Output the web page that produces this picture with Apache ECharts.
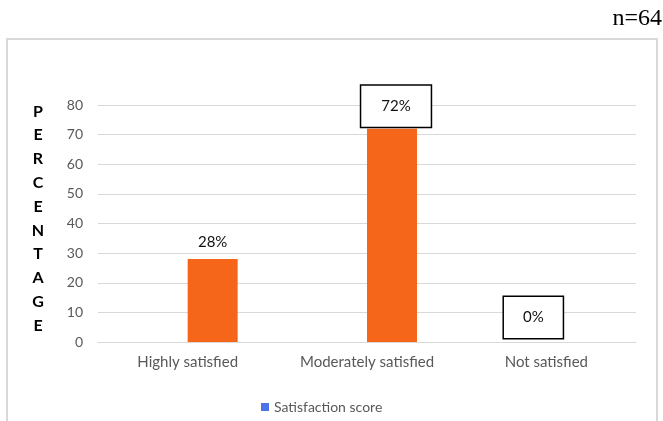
<!DOCTYPE html>
<html>
<head>
<meta charset="utf-8">
<script src="https://cdn.jsdelivr.net/npm/echarts@6/dist/echarts.min.js"></script>
<style>
html,body{margin:0;padding:0;background:#fff;}
#chart{width:663px;height:421px;}
</style>
</head>
<body>
<div id="chart"></div>
<script>
var categories = ['Highly satisfied', 'Moderately satisfied', 'Not satisfied'];
var legendSeries = [null, null, null];
var percentValues = [28, 72, 0];
var percentLabels = ['28%', '72%', '0%'];
var yTicks = [0, 10, 20, 30, 40, 50, 60, 70, 80];
var axisName = 'PERCENTAGE';
var sampleNote = 'n=64';

var chart = echarts.init(document.getElementById('chart'), null, {renderer: 'canvas'});

var boxedLabel = {
  show: true,
  position: 'top',
  distance: 2,
  fontFamily: 'Lato',
  fontSize: 15,
  color: '#111',
  backgroundColor: '#fff',
  borderColor: '#000',
  borderWidth: 1.5,
  padding: [13, 20, 13, 20]
};

var barData = percentValues.map(function (v, i) {
  var item = {value: v};
  if (i === 0) {
    item.label = {show: true, position: 'top', distance: 9, fontFamily: 'Lato', fontSize: 15, color: '#111', formatter: percentLabels[i]};
  } else if (i === 1) {
    item.label = Object.assign({}, boxedLabel, {formatter: percentLabels[i], offset: [4, 0]});
  } else {
    item.label = Object.assign({}, boxedLabel, {formatter: percentLabels[i], offset: [-38, 0], distance: 4, padding: [13, 19, 13, 19]});
  }
  return item;
});

var option = {
  animation: false,
  backgroundColor: '#fff',
  graphic: [
    {type: 'rect', shape: {x: 7, y: 39, width: 650, height: 390}, style: {fill: 'none', stroke: '#d9d9d9', lineWidth: 2}, z: -1},
    {type: 'text', right: 1, top: 7, style: {text: sampleNote, font: '24px "Liberation Serif"', fill: '#000'}}
  ],
  legend: {
    data: ['Satisfaction score'],
    left: 256,
    top: 395,
    itemWidth: 8,
    itemHeight: 8,
    itemGap: 5,
    icon: 'rect',
    textStyle: {fontFamily: 'Lato', fontSize: 14, color: '#595959'}
  },
  grid: {left: 98, right: 27, top: 105, bottom: 79, containLabel: false},
  xAxis: {
    type: 'category',
    data: categories,
    axisLine: {lineStyle: {color: '#d9d9d9', width: 1}},
    axisTick: {show: false},
    axisLabel: {fontFamily: 'Lato', fontSize: 15, color: '#595959', margin: 13}
  },
  yAxis: {
    type: 'value',
    min: yTicks[0],
    max: yTicks[yTicks.length - 1],
    interval: 10,
    name: axisName.split('').map(function (c) { return '{l|' + c + '}'; }).join('\n') + '\n{s|}',
    nameLocation: 'middle',
    nameRotate: 0,
    nameGap: 60,
    nameTextStyle: {
      fontFamily: 'Lato', fontWeight: 'bold', fontSize: 16, color: '#000', align: 'center', verticalAlign: 'middle',
      rich: {
        l: {fontFamily: 'Lato', fontWeight: 'bold', fontSize: 16, color: '#000', lineHeight: 23.8, align: 'center'},
        s: {fontSize: 1, lineHeight: 10}
      }
    },
    axisLine: {show: false},
    axisTick: {show: false},
    splitLine: {lineStyle: {color: '#d9d9d9', width: 1}},
    axisLabel: {fontFamily: 'Lato', fontSize: 14, color: '#595959', margin: 15}
  },
  series: [
    {
      name: 'Satisfaction score',
      type: 'bar',
      data: legendSeries,
      barWidth: 50,
      barGap: '0%',
      itemStyle: {color: '#4a74e8'}
    },
    {
      name: 'Percentage',
      type: 'bar',
      data: barData,
      barWidth: 50,
      barGap: '0%',
      itemStyle: {color: '#f5651a'}
    }
  ]
};
chart.setOption(option);
</script>
</body>
</html>
